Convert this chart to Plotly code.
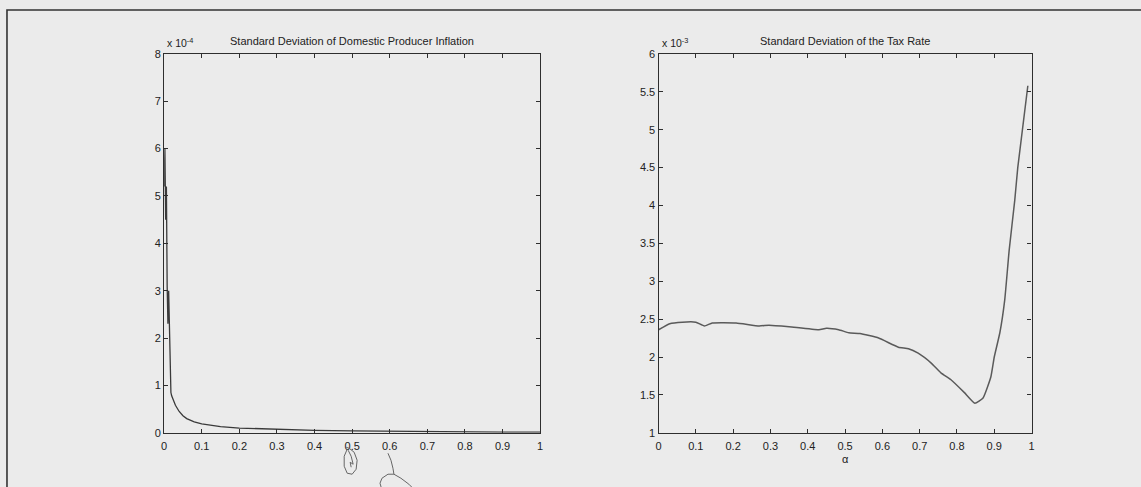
import plotly.graph_objects as go

W, H = 1141, 487

# Left panel: standard deviation of domestic producer inflation (units of 1e-4)
alpha_pi = [0.0, 0.002, 0.004, 0.006, 0.008, 0.010, 0.012, 0.014, 0.016, 0.018,
            0.02, 0.03, 0.04, 0.05, 0.06, 0.08, 0.10, 0.12, 0.15, 0.20,
            0.25, 0.30, 0.35, 0.40, 0.50, 0.60, 0.70, 0.80, 0.90, 1.0]
sd_pi = [5.2, 6.0, 4.5, 5.2, 3.1, 2.3, 3.0, 2.0, 1.2, 0.85,
         0.78, 0.58, 0.45, 0.36, 0.30, 0.23, 0.19, 0.16, 0.13, 0.10,
         0.085, 0.07, 0.06, 0.05, 0.04, 0.03, 0.025, 0.02, 0.015, 0.012]

# Right panel: standard deviation of the tax rate (units of 1e-3)
alpha_tau = [0.0, 0.03, 0.064, 0.10, 0.123, 0.144, 0.208, 0.27, 0.296, 0.35,
             0.43, 0.45, 0.483, 0.51, 0.54, 0.59, 0.643, 0.67, 0.696, 0.731,
             0.757, 0.784, 0.82, 0.848, 0.87, 0.891, 0.90, 0.915, 0.928, 0.94,
             0.955, 0.963, 0.99]
sd_tau = [2.36, 2.44, 2.46, 2.46, 2.41, 2.45, 2.45, 2.41, 2.42, 2.40,
          2.36, 2.38, 2.36, 2.32, 2.31, 2.25, 2.13, 2.11, 2.05, 1.92,
          1.79, 1.70, 1.53, 1.39, 1.46, 1.74, 2.0, 2.32, 2.75, 3.41,
          4.07, 4.5, 5.58]

x_ticks = [i / 10 for i in range(11)]
y_ticks_pi = list(range(0, 9))
y_ticks_tau = [1 + 0.5 * i for i in range(11)]

titles = ["Standard Deviation of Domestic Producer Inflation",
          "Standard Deviation of the Tax Rate"]
x_label_right = "α"

BG = "#ebebeb"
INK = "#2e2e2e"
FONT = "Liberation Sans, Arial, sans-serif"


def px_x(p):
    return p / W


def px_y(p):
    # vertical calibration of the rendered page
    q = (p - 5.0) / 0.977
    return 1 - q / H


left_dom = [px_x(162), px_x(540)]
right_dom = [px_x(659), px_x(1034)]
y_dom = [px_y(432.5), px_y(53)]

fig = go.Figure()
fig.add_trace(go.Scatter(x=alpha_pi, y=sd_pi, mode="lines",
                         line=dict(color="#3a3a3a", width=1.3),
                         xaxis="x", yaxis="y", showlegend=False))
fig.add_trace(go.Scatter(x=alpha_tau, y=sd_tau, mode="lines",
                         line=dict(color="#5a5a5a", width=1.5, shape="spline", smoothing=0.4),
                         xaxis="x2", yaxis="y2", showlegend=False))

axis_common = dict(
    showgrid=False, zeroline=False, showline=True, linecolor=INK, linewidth=1.2,
    mirror="ticks", ticks="inside", ticklen=4, tickwidth=1, tickcolor=INK,
    tickfont=dict(family=FONT, size=11, color="#222"),
)

fig.update_layout(
    width=W, height=H,
    margin=dict(l=0, r=0, t=0, b=0),
    paper_bgcolor=BG, plot_bgcolor=BG,
    xaxis=dict(domain=left_dom, range=[0, 1], tickvals=x_ticks, anchor="y",
               ticklabelstandoff=3, **axis_common),
    yaxis=dict(domain=y_dom, range=[0, 8], tickvals=y_ticks_pi, anchor="x", **axis_common),
    xaxis2=dict(domain=right_dom, range=[0, 1], tickvals=x_ticks, anchor="y2",
                ticklabelstandoff=3, **axis_common),
    yaxis2=dict(domain=y_dom, range=[1, 6], tickvals=y_ticks_tau, anchor="x2", **axis_common),
)


def label(text, x, y, xanchor="center", size=11):
    fig.add_annotation(text=text, x=x, y=y, xanchor=xanchor, yanchor="middle",
                       xref="paper", yref="paper", showarrow=False,
                       font=dict(family=FONT, size=size, color="#222"))


label(titles[0], (left_dom[0] + left_dom[1]) / 2, px_y(40))
label(titles[1], (right_dom[0] + right_dom[1]) / 2, px_y(40))
label("x 10<sup>-4</sup>", px_x(163), px_y(42), xanchor="left", size=10.5)
label("x 10<sup>-3</sup>", px_x(660), px_y(42), xanchor="left", size=10.5)
label(x_label_right, (right_dom[0] + right_dom[1]) / 2, px_y(459))


def pen_path(points):
    parts = []
    for i, (x, y) in enumerate(points):
        parts.append(("M" if i == 0 else "L") + f"{px_x(x):.5f},{px_y(y):.5f}")
    return " ".join(parts)


# Page frame of the printed figure
fig.add_shape(type="path", xref="paper", yref="paper",
              path=pen_path([(4, 495), (4, 9), (1145, 9)]),
              line=dict(color="#333", width=1.6))

# Handwritten pen marks below the left panel
pen = dict(color="#666", width=1)
fig.add_shape(type="path", xref="paper", yref="paper",
              path=pen_path([(346, 449), (343, 456), (343, 466), (346, 473), (351, 474),
                             (355, 469), (356, 460), (353, 452), (348, 448), (345, 447)]),
              line=pen)
fig.add_shape(type="path", xref="paper", yref="paper",
              path=pen_path([(347, 450), (350, 456), (352, 464), (349, 462), (350, 467)]),
              line=pen)
fig.add_shape(type="path", xref="paper", yref="paper",
              path=pen_path([(387, 453), (390, 460), (392, 468), (393, 474), (387, 474),
                             (381, 478), (379, 483), (381, 490)]),
              line=pen)
fig.add_shape(type="path", xref="paper", yref="paper",
              path=pen_path([(393, 474), (400, 478), (408, 484), (414, 490)]),
              line=pen)

fig.write_html("out.html")
